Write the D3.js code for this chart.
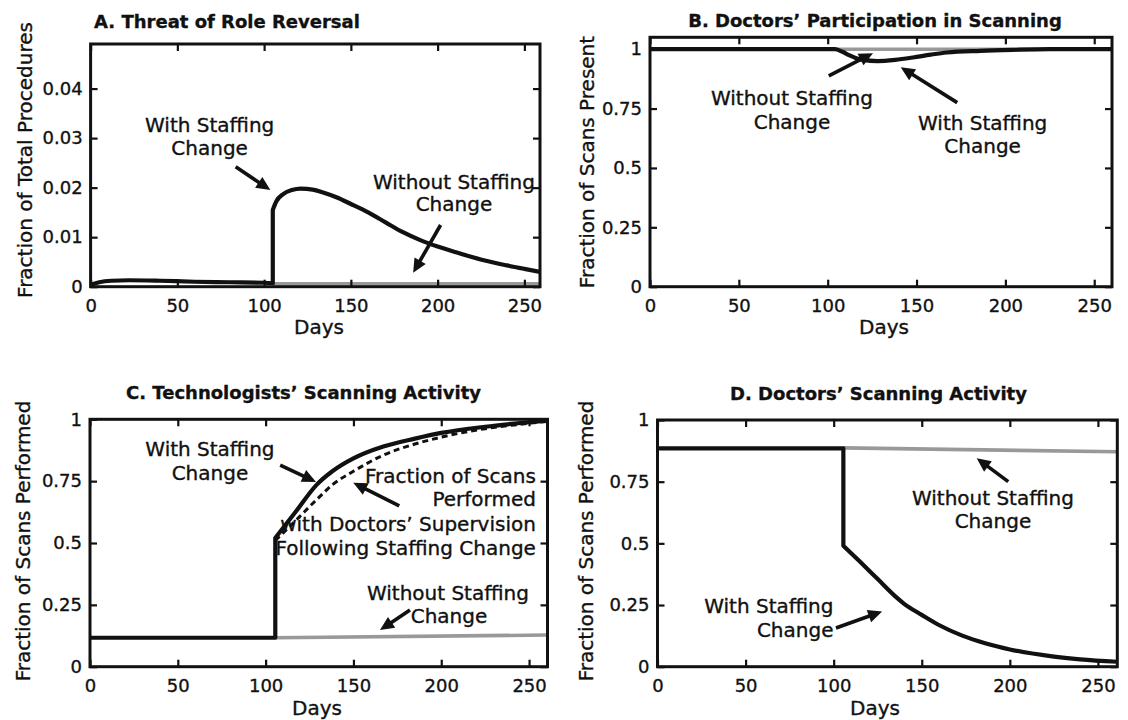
<!DOCTYPE html>
<html><head><meta charset="utf-8">
<script src="https://cdn.jsdelivr.net/npm/d3@7/dist/d3.min.js"></script>
<style>
body{margin:0;background:#fff;}
svg{display:block;font-family:"DejaVu Sans",sans-serif;}
svg text{stroke:#111;stroke-width:0.35px;}
</style></head><body>
<svg id="chart" width="1128" height="720"></svg>
<script>
// ---------------- data ----------------
const xTicks = [0, 50, 100, 150, 200, 250];
const aYTicks = [0, 0.01, 0.02, 0.03, 0.04];
const fracTicks = [0, 0.25, 0.5, 0.75, 1];

const titles = ["A. Threat of Role Reversal", "B. Doctors\u2019 Participation in Scanning",
                "C. Technologists\u2019 Scanning Activity", "D. Doctors\u2019 Scanning Activity"];
const yLabels = ["Fraction of Total Procedures", "Fraction of Scans Present",
                 "Fraction of Scans Performed", "Fraction of Scans Performed"];
const xLabel = "Days";

// Panel A
const aWithDays = [0, 5, 12, 22, 40, 60, 80, 100, 105, 105, 107, 111, 116, 121, 128, 134, 142, 150, 160, 170, 180, 190, 200, 212, 226, 240, 250, 259];
const aWithVals = [0.0004, 0.0009, 0.0012, 0.0013, 0.0012, 0.0010, 0.0009, 0.0008, 0.0007, 0.0155, 0.0172, 0.0187, 0.0195, 0.0198, 0.0196, 0.0190, 0.0180, 0.0167, 0.0150, 0.0130, 0.0110, 0.0094, 0.0081, 0.0068, 0.0054, 0.0043, 0.0036, 0.0030];
const aWithoutDays = [105, 259];
const aWithoutVals = [0.0006, 0.0006];

// Panel B
const bWithDays = [0, 104, 108, 112, 116, 120, 128, 138, 148, 158, 167, 186, 204, 225, 260];
const bWithVals = [1, 1, 0.99, 0.975, 0.962, 0.955, 0.95, 0.955, 0.965, 0.977, 0.986, 0.993, 0.997, 1, 1];
const bWithoutDays = [104, 260];
const bWithoutVals = [1.0, 1.0];

// Panel C
const cWithDays = [0, 105.5, 105.5, 117, 129, 138, 150, 167, 185, 200, 225, 245, 260.5];
const cWithVals = [0.117, 0.117, 0.52, 0.625, 0.735, 0.79, 0.842, 0.89, 0.922, 0.945, 0.97, 0.985, 0.995];
const cSupDays = [105.5, 117, 129, 138, 150, 167, 185, 200, 225, 245, 260.5];
const cSupVals = [0.51, 0.59, 0.675, 0.735, 0.79, 0.855, 0.9, 0.928, 0.962, 0.98, 0.992];
const cWithoutDays = [105.5, 260.5];
const cWithoutVals = [0.117, 0.128];

// Panel D
const dWithDays = [0, 105.5, 105.5, 115, 125, 135, 140, 150, 160, 173, 186, 200, 224, 240, 261];
const dWithVals = [0.885, 0.885, 0.49, 0.425, 0.355, 0.285, 0.255, 0.21, 0.168, 0.126, 0.095, 0.07, 0.042, 0.03, 0.02];
const dWithoutDays = [105.5, 261];
const dWithoutVals = [0.887, 0.871];

// Annotations (data coordinates)
const aNotes = [
  {text: "With Staffing", day: 68.6, val: 0.0312},
  {text: "Change", day: 68.6, val: 0.0266},
  {text: "Without Staffing", day: 209.4, val: 0.0197},
  {text: "Change", day: 209.4, val: 0.0153}
];
const aArrows = [{from: [83.6, 0.0242], to: [103.6, 0.0195]}, {from: [201.7, 0.01246], to: [185.9, 0.0028]}];

const bNotes = [
  {text: "Without Staffing", day: 79.9, val: 0.766},
  {text: "Change", day: 79.9, val: 0.664},
  {text: "With Staffing", day: 187.2, val: 0.658},
  {text: "Change", day: 187.2, val: 0.563}
];
const bArrows = [{from: [100.6, 0.888], to: [125.5, 0.983]}, {from: [172.9, 0.775], to: [141.1, 0.924]}];

const cNotes = [
  {text: "With Staffing", day: 68.3, val: 0.852},
  {text: "Change", day: 68.3, val: 0.755},
  {text: "Fraction of Scans", day: 253.9, val: 0.741, anchor: "end"},
  {text: "Performed", day: 253.9, val: 0.648, anchor: "end"},
  {text: "with Doctors\u2019 Supervision", day: 253.9, val: 0.547, anchor: "end"},
  {text: "Following Staffing Change", day: 253.9, val: 0.453, anchor: "end"},
  {text: "Without Staffing", day: 203.8, val: 0.270},
  {text: "Change", day: 204.4, val: 0.175}
];
const cArrows = [{from: [108.3, 0.815], to: [128.7, 0.747]}, {from: [176.1, 0.650], to: [149.9, 0.744]}, {from: [182.2, 0.229], to: [165.1, 0.148]}];

const dNotes = [
  {text: "Without Staffing", day: 190.4, val: 0.655},
  {text: "Change", day: 190.4, val: 0.561},
  {text: "With Staffing", day: 99.9, val: 0.218, anchor: "end"},
  {text: "Change", day: 99.9, val: 0.122, anchor: "end"}
];
const dArrows = [{from: [199.1, 0.750], to: [181.2, 0.845]}, {from: [101.3, 0.157], to: [127.5, 0.224]}];

// ---------------- layout ----------------
const INK = "#111";
const GRAY = "#999";
const fmtA = d => d === 0 ? "0" : d.toFixed(2);
const fmtF = d => String(d);

const panels = [
  {left: 90.6, right: 540, top: 44, bottom: 286.7, xMax: 259, yMax: 0.049, yTicks: aYTicks, yFmt: fmtA,
   title: titles[0], titleX: 227, titleY: 28, yLabel: yLabels[0], yLabelX: 32, yLabelY: 160, daysX: 319, daysY: 334,
   series: [{days: aWithoutDays, vals: aWithoutVals, kind: "gray"}, {days: aWithDays, vals: aWithVals, kind: "black"}],
   notes: aNotes, arrows: aArrows},
  {left: 650, right: 1112, top: 37.3, bottom: 286.7, xMax: 260, yMax: 1.05, yTicks: fracTicks, yFmt: fmtF,
   title: titles[1], titleX: 875, titleY: 26.5, yLabel: yLabels[1], yLabelX: 594, yLabelY: 162, daysX: 884, daysY: 334,
   series: [{days: bWithoutDays, vals: bWithoutVals, kind: "gray"}, {days: bWithDays, vals: bWithVals, kind: "black"}],
   notes: bNotes, arrows: bArrows},
  {left: 90, right: 547.5, top: 419.3, bottom: 666.7, xMax: 260.5, yMax: 1, yTicks: fracTicks, yFmt: fmtF,
   title: titles[2], titleX: 303.5, titleY: 398.5, yLabel: yLabels[2], yLabelX: 30, yLabelY: 541, daysX: 317, daysY: 715,
   series: [{days: cWithoutDays, vals: cWithoutVals, kind: "gray"}, {days: cSupDays, vals: cSupVals, kind: "dash"},
            {days: cWithDays, vals: cWithVals, kind: "black"}],
   notes: cNotes, arrows: cArrows},
  {left: 657.5, right: 1117.3, top: 420, bottom: 666.7, xMax: 261, yMax: 1, yTicks: fracTicks, yFmt: fmtF,
   title: titles[3], titleX: 878.5, titleY: 400, yLabel: yLabels[3], yLabelX: 593, yLabelY: 541, daysX: 875, daysY: 715,
   series: [{days: dWithoutDays, vals: dWithoutVals, kind: "gray"}, {days: dWithDays, vals: dWithVals, kind: "black"}],
   notes: dNotes, arrows: dArrows}
];

const svg = d3.select("#chart");

function buildPath(days, vals, x, y) {
  const pts = days.map((d, i) => [x(d), y(vals[i])]);
  const segs = [];
  let cur = [pts[0]];
  for (let i = 1; i < pts.length; i++) {
    if (days[i] === days[i - 1]) { segs.push(cur); cur = [pts[i]]; }
    else cur.push(pts[i]);
  }
  segs.push(cur);
  const gen = d3.line().curve(d3.curveMonotoneX);
  return segs.map((s, i) => {
    const str = s.length > 1 ? gen(s) : "M" + s[0][0] + "," + s[0][1];
    return i === 0 ? str : "L" + str.slice(1);
  }).join("");
}

function drawArrow(g, x, y, a) {
  const x1 = x(a.from[0]), y1 = y(a.from[1]);
  const x2 = x(a.to[0]), y2 = y(a.to[1]);
  const dx = x2 - x1, dy = y2 - y1, len = Math.hypot(dx, dy);
  const ux = dx / len, uy = dy / len;
  const L = 14, W = 6.5;
  const bx = x2 - ux * L, by = y2 - uy * L;
  g.append("line").attr("x1", x1).attr("y1", y1).attr("x2", bx + ux * 2).attr("y2", by + uy * 2)
    .attr("stroke", INK).attr("stroke-width", 3.6);
  g.append("polygon")
    .attr("points", [[x2, y2], [bx - uy * W, by + ux * W], [bx + uy * W, by - ux * W]].map(p => p.join(",")).join(" "))
    .attr("fill", INK);
}

panels.forEach((p, pi) => {
  const g = svg.append("g");
  const x = d3.scaleLinear().domain([0, p.xMax]).range([p.left, p.right]);
  const y = d3.scaleLinear().domain([0, p.yMax]).range([p.bottom, p.top]);

  const clipId = "clip" + pi;
  svg.append("clipPath").attr("id", clipId).append("rect")
    .attr("x", p.left).attr("y", p.top).attr("width", p.right - p.left).attr("height", p.bottom - p.top);

  const lines = g.append("g").attr("clip-path", `url(#${clipId})`);
  p.series.forEach(s => {
    const path = lines.append("path").attr("d", buildPath(s.days, s.vals, x, y)).attr("fill", "none");
    if (s.kind === "gray") path.attr("stroke", GRAY).attr("stroke-width", 3.6);
    else if (s.kind === "dash") path.attr("stroke", INK).attr("stroke-width", 3).attr("stroke-dasharray", "6,4");
    else path.attr("stroke", INK).attr("stroke-width", 4.2).attr("stroke-linejoin", "round");
  });

  // axes with inward ticks
  const axB = g.append("g").attr("transform", `translate(0,${p.bottom})`)
    .call(d3.axisBottom(x).tickValues(xTicks).tickSize(-7).tickPadding(13).tickFormat(d3.format("d")));
  const axT = g.append("g").attr("transform", `translate(0,${p.top})`)
    .call(d3.axisTop(x).tickValues(xTicks).tickSize(-7).tickFormat(""));
  const axL = g.append("g").attr("transform", `translate(${p.left},0)`)
    .call(d3.axisLeft(y).tickValues(p.yTicks).tickSize(-7).tickPadding(8).tickFormat(p.yFmt));
  const axR = g.append("g").attr("transform", `translate(${p.right},0)`)
    .call(d3.axisRight(y).tickValues(p.yTicks).tickSize(-7).tickFormat(""));
  [axB, axT, axL, axR].forEach(a => {
    a.select(".domain").remove();
    a.selectAll(".tick line").attr("stroke", INK).attr("stroke-width", 2.2);
    a.selectAll(".tick text").attr("fill", INK).attr("font-size", 18).attr("font-family", "DejaVu Sans");
  });

  // frame
  g.append("rect").attr("x", p.left).attr("y", p.top).attr("width", p.right - p.left).attr("height", p.bottom - p.top)
    .attr("fill", "none").attr("stroke", INK).attr("stroke-width", 3);

  // title
  g.append("text").attr("x", p.titleX).attr("y", p.titleY).attr("text-anchor", "middle")
    .attr("font-size", 18).attr("font-weight", "bold").attr("fill", INK).text(p.title);
  // x label
  g.append("text").attr("x", p.daysX).attr("y", p.daysY).attr("text-anchor", "middle")
    .attr("font-size", 20).attr("fill", INK).text(xLabel);
  // y label
  g.append("text").attr("transform", `translate(${p.yLabelX},${p.yLabelY}) rotate(-90)`).attr("text-anchor", "middle")
    .attr("font-size", 20).attr("fill", INK).text(p.yLabel);

  // annotations
  p.notes.forEach(n => {
    g.append("text").attr("x", x(n.day)).attr("y", y(n.val)).attr("text-anchor", n.anchor || "middle")
      .attr("font-size", 20).attr("fill", INK).text(n.text);
  });
  p.arrows.forEach(a => drawArrow(g, x, y, a));
});
</script>
</body></html>
